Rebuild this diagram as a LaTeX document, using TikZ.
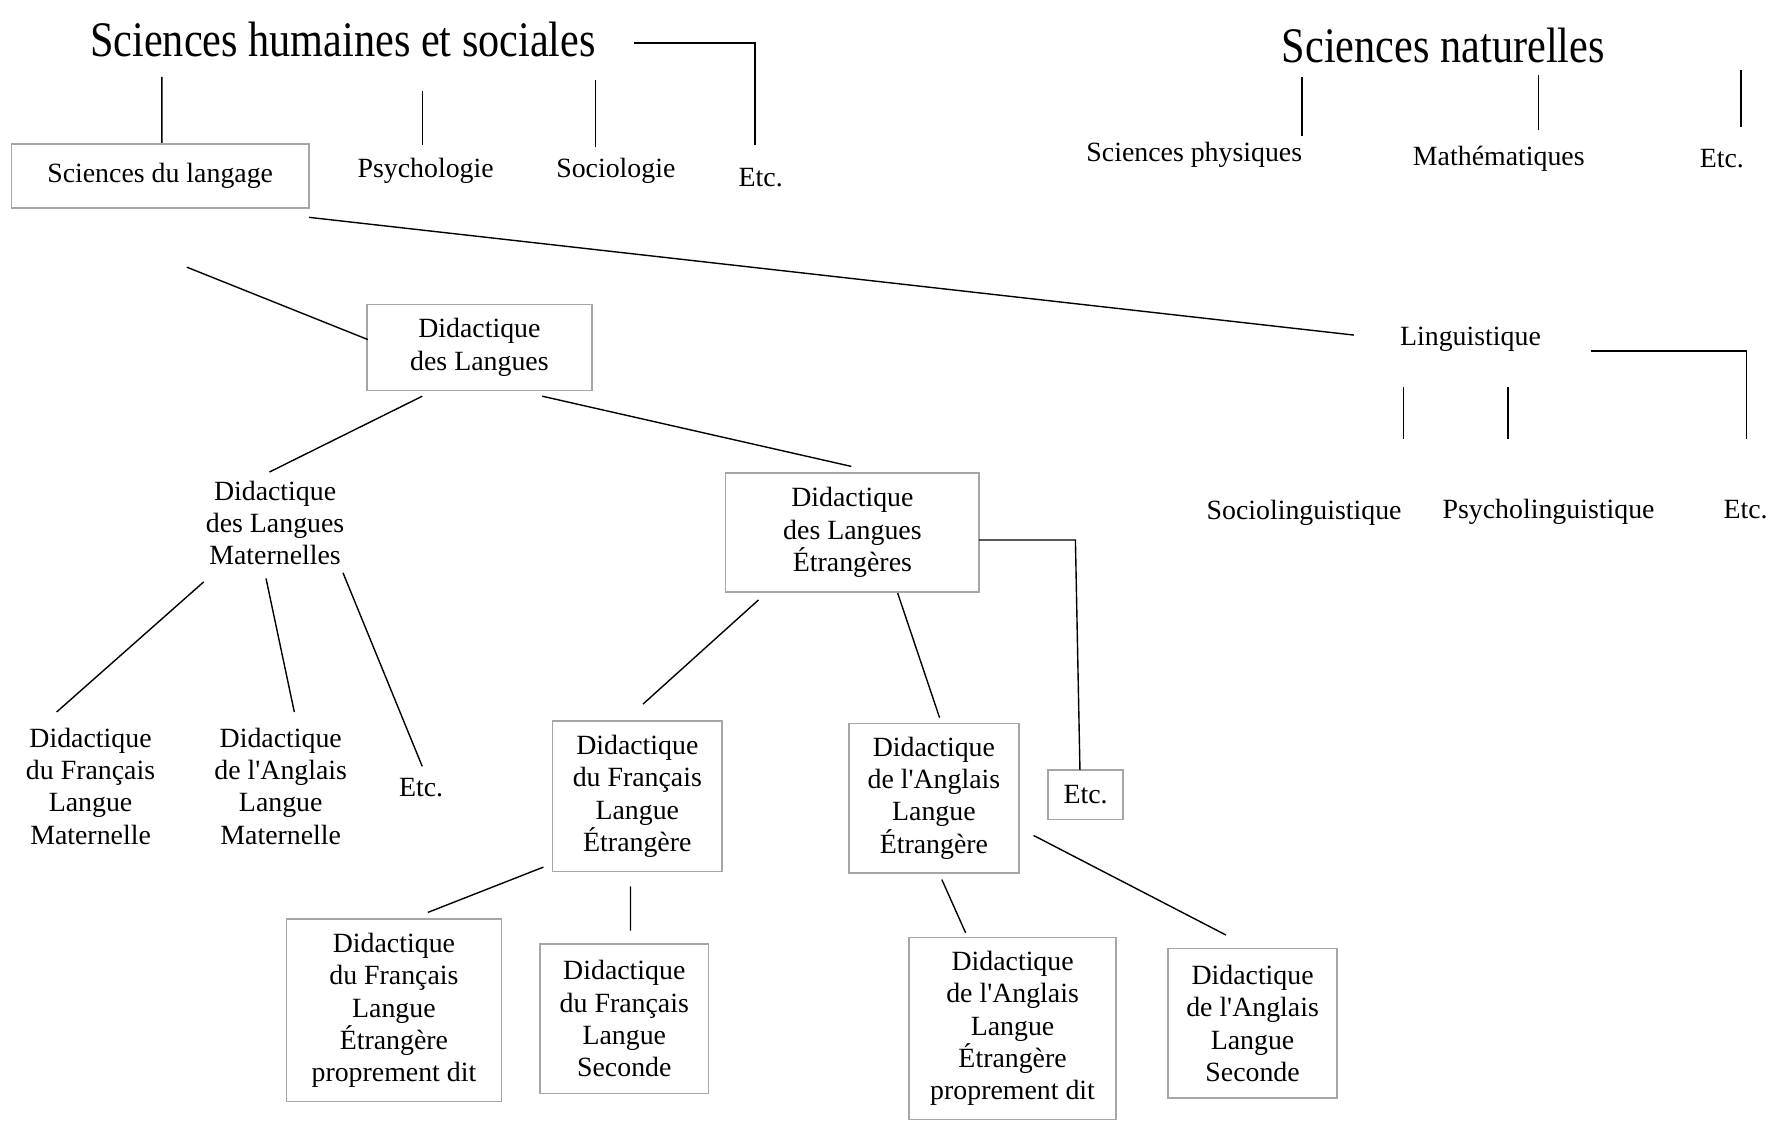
\documentclass[tikz,border=0pt]{standalone}
\usepackage{fontspec}
\setmainfont{Liberation Serif}
\newfontfamily\bodyfont{Liberation Serif}
\newfontfamily\titlefont[FakeStretch=0.85]{Liberation Serif}
\begin{document}
\begin{tikzpicture}[x=0.02cm,y=-0.02cm,
  txt/.style={align=center,inner sep=0pt,font=\bodyfont\fontsize{14}{16.3}\selectfont},
  ttl/.style={inner sep=0pt,font=\titlefont\fontsize{25}{28}\selectfont},
  boxn/.style={txt,draw=black!35,line width=0.8pt},
  conn/.style={line width=0.7pt,black}]
\useasboundingbox (0,0) rectangle (1568,996);
% titles
\node[ttl] (t1) at (303,35) {Sciences humaines et sociales};
\node[ttl] (t2) at (1275,40) {Sciences naturelles};
% first level
\node[boxn,minimum width=263*0.02cm,minimum height=57*0.02cm] (sdl) at (141.5,155.5) {Sciences du langage};
\node[txt] (psy) at (376,151) {Psychologie};
\node[txt] (soc) at (544,151) {Sociologie};
\node[txt] (etc1) at (672,157) {Etc.};
\node[txt] (sp) at (1055,137) {Sciences physiques};
\node[txt] (math) at (1324,140) {Mathématiques};
\node[txt] (etc2) at (1521,140) {Etc.};
% linguistique
\node[txt] (ling) at (1299,300) {Linguistique};
\node[txt] (socl) at (1152,453) {Sociolinguistique};
\node[txt] (psyl) at (1368,452) {Psycholinguistique};
\node[txt] (etc3) at (1542,450) {Etc.};
% didactique
\node[boxn,minimum width=199*0.02cm,minimum height=76*0.02cm] (dl) at (423.5,307) {Didactique\\des Langues};
\node[txt] (dlm) at (243,462) {Didactique\\des Langues\\Maternelles};
\node[boxn,minimum width=224*0.02cm,minimum height=105*0.02cm] (dle) at (753,470.5) {Didactique\\des Langues\\Étrangères};
\node[boxn,minimum width=66*0.02cm,minimum height=44*0.02cm] (etc4) at (959,702) {Etc.};
\node[txt] (dflm) at (80,694.5) {Didactique\\du Français\\Langue\\Maternelle};
\node[txt] (dalm) at (248,694.5) {Didactique\\de l'Anglais\\Langue\\Maternelle};
\node[txt] (etc5) at (372,696) {Etc.};
\node[boxn,minimum width=150*0.02cm,minimum height=133*0.02cm] (dfle) at (563,703.5) {Didactique\\du Français\\Langue\\Étrangère};
\node[boxn,minimum width=150*0.02cm,minimum height=132*0.02cm] (dale) at (825,705) {Didactique\\de l'Anglais\\Langue\\Étrangère};
\node[boxn,minimum width=190*0.02cm,minimum height=161*0.02cm] (dflepd) at (348,892.5) {Didactique\\du Français\\Langue\\Étrangère\\proprement dit};
\node[boxn,minimum width=149*0.02cm,minimum height=132*0.02cm] (dfls) at (551.5,900) {Didactique\\du Français\\Langue\\Seconde};
\node[boxn,minimum width=183*0.02cm,minimum height=161*0.02cm] (dalepd) at (894.5,908.5) {Didactique\\de l'Anglais\\Langue\\Étrangère\\proprement dit};
\node[boxn,minimum width=149*0.02cm,minimum height=132*0.02cm] (dals) at (1106.5,904) {Didactique\\de l'Anglais\\Langue\\Seconde};
% connectors
\draw[conn] ([shift={(-160,33)}]t1.center) -- ([shift={(1.5,0)}]sdl.north);
\draw[conn] ([shift={(70,45)}]t1.center) -- ([shift={(-3,-23)}]psy.center);
\draw[conn] ([shift={(223,36)}]t1.center) -- ([shift={(-18,-21)}]soc.center);
\draw[conn] ([shift={(257,3)}]t1.center) -| ([shift={(-5,-29)}]etc1.center);
\draw[conn] ([shift={(-125,28)}]t2.center) -- ([shift={(95,-17)}]sp.center);
\draw[conn] ([shift={(84,26)}]t2.center) -- ([shift={(35,-25)}]math.center);
\draw[conn] ([shift={(263,22)}]t2.center) -- ([shift={(17,-28)}]etc2.center);
\draw[conn] ([shift={(131.5,36.5)}]sdl.center) -- ([shift={(-103,-4)}]ling.center);
\draw[conn] ([shift={(106,10)}]ling.center) -| ([shift={(1,-62)}]etc3.center);
\draw[conn] ([shift={(-59,42)}]ling.center) -- ([shift={(88,-65)}]socl.center);
\draw[conn] ([shift={(33,42)}]ling.center) -- ([shift={(-36,-64)}]psyl.center);
\draw[conn] ([shift={(23.5,80.5)}]sdl.center) -- ([shift={(-98.5,-7)}]dl.center);
\draw[conn] ([shift={(-50.5,43)}]dl.center) -- ([shift={(-5,-45)}]dlm.center);
\draw[conn] ([shift={(55.5,43)}]dl.center) -- ([shift={(-1,-58.5)}]dle.center);
\draw[conn] ([shift={(112,6.5)}]dle.center) -- ++(85,0) -- ([shift={(-5,-22)}]etc4.center);
\draw[conn] ([shift={(-63,52)}]dlm.center) -- ([shift={(-30,-65.5)}]dflm.center);
\draw[conn] ([shift={(-8,49)}]dlm.center) -- ([shift={(12,-65.5)}]dalm.center);
\draw[conn] ([shift={(60,44)}]dlm.center) -- ([shift={(1,-19)}]etc5.center);
\draw[conn] ([shift={(-83,59.5)}]dle.center) -- ([shift={(5,-81.5)}]dfle.center);
\draw[conn] ([shift={(40,53.5)}]dle.center) -- ([shift={(5,-71)}]dale.center);
\draw[conn] ([shift={(-83,62.5)}]dfle.center) -- ([shift={(30,-86.5)}]dflepd.center);
\draw[conn] ([shift={(-6,79.5)}]dfle.center) -- ([shift={(5.5,-78)}]dfls.center);
\draw[conn] ([shift={(7,72)}]dale.center) -- ([shift={(-41.5,-84.5)}]dalepd.center);
\draw[conn] ([shift={(88,33)}]dale.center) -- ([shift={(-23.5,-78)}]dals.center);
\end{tikzpicture}
\end{document}
